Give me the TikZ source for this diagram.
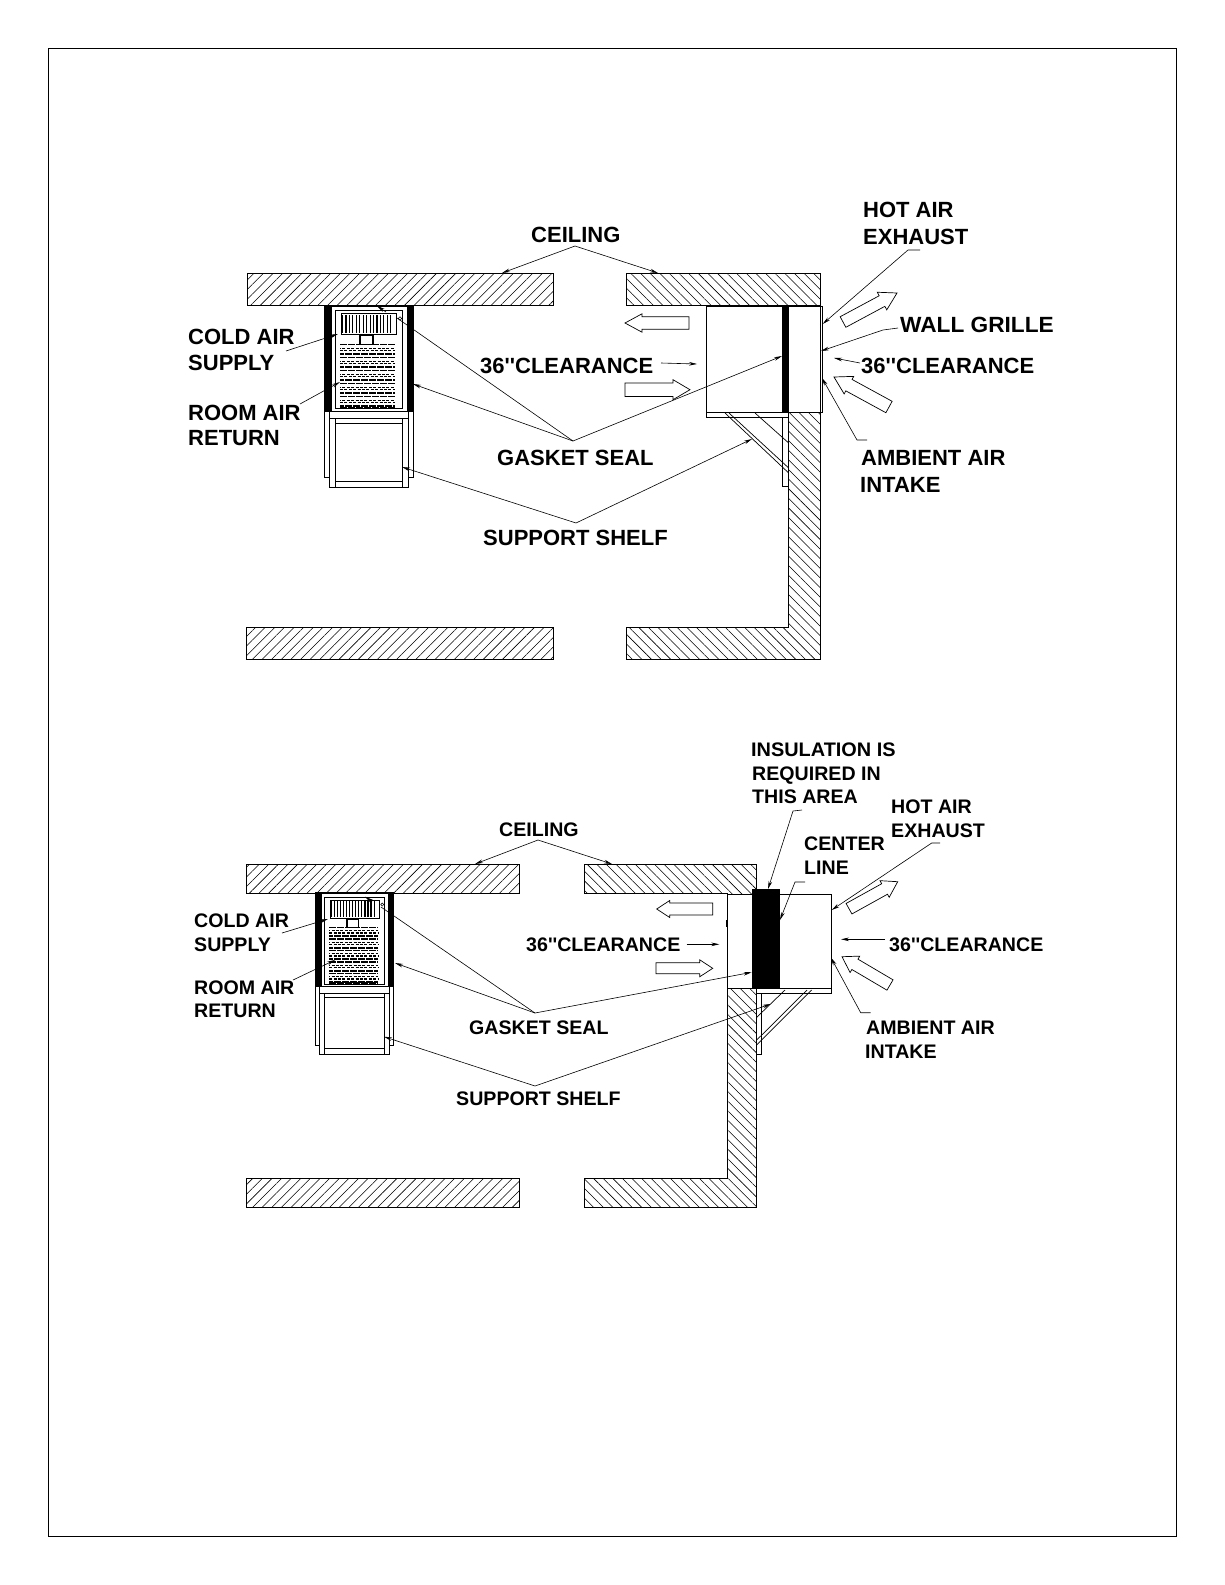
\documentclass[tikz,border=0pt]{standalone}
\usepackage{fontspec}
\setmainfont{Liberation Sans}
\setmonofont{Liberation Sans}
\usetikzlibrary{patterns.meta,arrows.meta,calc}
\newcommand{\qq}{{\ttfamily''}}
\tikzset{
  wallr/.style={draw=black,line width=1pt,pattern={Lines[angle=45,distance=6.8pt,line width=.55pt]}},
  walll/.style={draw=black,line width=1pt,pattern={Lines[angle=-45,distance=6.8pt,line width=.55pt]}},
  lab/.style={anchor=west,inner sep=0pt,yshift=-1pt,font=\bfseries\fontsize{22}{24}\selectfont},
  labs/.style={anchor=west,inner sep=0pt,yshift=-1pt,font=\bfseries\fontsize{19.6}{22}\selectfont},
  leader/.style={line width=.6pt,-{Stealth[length=8pt,width=3.6pt]}},
  leaderp/.style={line width=.6pt},
  part/.style={draw=black,line width=.8pt,fill=white},
  thin part/.style={draw=black,line width=.7pt},
  blockarrow/.style={draw=black,line width=.7pt,fill=white}
}
% block arrow: tail, tip, half body width, half head width, head length
\newcommand{\blockarr}[7]{%
  \coordinate (ba1) at (#1,#2);
  \coordinate (ba2) at (#3,#4);
  \coordinate (ba3) at ($(ba2)!#7pt!(ba1)$);
  \draw[blockarrow] ($(ba1)!#5pt!90:(ba2)$) -- ($(ba3)!#5pt!-90:(ba1)$) -- ($(ba3)!#6pt!-90:(ba1)$) -- (ba2)
     -- ($(ba3)!#6pt!90:(ba1)$) -- ($(ba3)!#5pt!90:(ba1)$) -- ($(ba1)!#5pt!-90:(ba2)$) -- cycle;
}
% wall-mounted unit seen from the front; origin is the top left of the left gasket strip
\newcommand{\frontunit}{%
  \draw[part] (0,0) rectangle (89,172);
  \draw[part] (5,106) rectangle (84,182);
  \draw[thin part] (5,113) -- (84,113);
  \draw[thin part] (11,113) -- (11,182);
  \draw[thin part] (78,113) -- (78,182);
  \draw[thin part] (11,118) -- (78,118);
  \draw[thin part] (11,176) -- (78,176);
  \fill (0,0) rectangle (8.5,106);
  \fill (82.5,0) rectangle (89,106);
  \draw[part] (7.5,1) rectangle (83,106);
  \draw[line width=1.6pt] (0,0) -- (89,0);
  \draw[thin part] (11,5) rectangle (78,103);
  \draw[thin part] (17.5,8) rectangle (72.5,28.5);
  \foreach \i in {0,...,14} {\draw[line width=1.15pt] ({18.5+\i*3.45},9.5) -- ({18.5+\i*3.45},27);}
  \draw[line width=1.5pt] (36,30) rectangle (49,39);
  \draw[line width=.5pt] (76,13) circle (1.8);
  \foreach \g in {0,...,4} {
    \draw[line width=1.7pt,dash pattern=on 7pt off 1pt] (16,{39+\g*13}) -- (71,{39+\g*13});
    \draw[line width=1.2pt,dash pattern=on 3pt off 1.4pt,dash phase=2pt] (16,{42.6+\g*13}) -- (71,{42.6+\g*13});
    \draw[line width=1.2pt,dash pattern=on 3pt off 1.4pt] (16,{45.2+\g*13}) -- (71,{45.2+\g*13});
    \draw[line width=1.7pt,dash pattern=on 7pt off 1pt,dash phase=3pt] (16,{48.8+\g*13}) -- (71,{48.8+\g*13});
  }
  \draw[line width=1.7pt,dash pattern=on 7pt off 1pt] (16,102) -- (71,102);
}
\begin{document}
\begin{tikzpicture}[x=1pt,y=-1pt]
\useasboundingbox (0,0) rectangle (1225,1585);
\fill[white] (0,0) rectangle (1225,1585);
\draw[line width=1pt] (48.3,48.3) rectangle (1176.7,1536.3);

%% ---------- upper drawing ----------
\draw[wallr] (247,273.3) rectangle (553,305.3);
\draw[wallr] (246,627) rectangle (553,659);
\draw[walll] (626,273.3) -- (820.7,273.3) -- (820.7,659) -- (626.7,659) -- (626.7,627)
   -- (788.7,627) -- (788.7,305.3) -- (626,305.3) -- cycle;

\begin{scope}[shift={(324,305.5)}]\frontunit\end{scope}

\draw[thin part] (782.3,417) rectangle (788.7,486);
\draw[part] (706.7,412.3) rectangle (788.7,417.3);
\draw[thin part] (725,413) -- (788.7,473);
\draw[thin part] (729,413) -- (788.7,468);
\draw[thin part] (755,413) -- (788.7,443);
\draw[part] (706.7,306) rectangle (822,412.3);
\draw[thin part] (820,306) -- (820,412.3);
\draw[line width=1.6pt] (706.7,306) -- (820.7,306);
\fill (782.3,306) rectangle (788.7,412.3);
\draw[line width=1.4pt] (706.2,335) -- (706.2,343);

\blockarr{689}{323}{625}{323}{6.3}{9.2}{17}
\blockarr{625}{389.7}{690}{389.7}{6.8}{10}{17}
\blockarr{843}{322}{897}{293}{6}{10}{17}
\blockarr{889}{407}{834}{377}{6.5}{10}{17}

\node[lab] (ceilA) at (531,233.5) {CEILING};
\node[lab] (hotA) at (863,209) {HOT AIR};
\node[lab] (exhA) at (863,236) {EXHAUST};
\node[lab,xscale=1.03] (grilleA) at (900,324) {WALL GRILLE};
\node[lab] (clrRA) at (861,365) {36\qq CLEARANCE};
\node[lab] (clrLA) at (480,365) {36\qq CLEARANCE};
\node[lab] (coldA) at (188,335.5) {COLD AIR};
\node[lab] (supA) at (188,362) {SUPPLY};
\node[lab] (roomA) at (188,412) {ROOM AIR};
\node[lab] (retA) at (188,437.5) {RETURN};
\node[lab] (gaskA) at (497,457) {GASKET SEAL};
\node[lab] (shelfA) at (483,536.5) {SUPPORT SHELF};
\node[lab] (ambA) at (861,457) {AMBIENT AIR};
\node[lab] (intA) at (860,484) {INTAKE};

\coordinate (ceilApexA) at (575,246);
\coordinate (ceilTipA1) at (502,273);
\coordinate (ceilTipA2) at (658,273);
\draw[leader] (ceilApexA) -- (ceilTipA1);
\draw[leader] (ceilApexA) -- (ceilTipA2);
\coordinate (coldStartA) at (286,351);
\coordinate (coldTipA) at (338,334);
\draw[leader] (coldStartA) -- (coldTipA);
\coordinate (roomStartA) at (300,404);
\coordinate (roomTipA) at (340,382);
\draw[leader] (roomStartA) -- (roomTipA);
\coordinate (gaskApexA) at (573,441);
\coordinate (gaskKneeA) at (397,318);
\coordinate (gaskShortA) at (386,312);
\coordinate (gaskTipA1) at (377,306);
\coordinate (gaskTipA2) at (413,384);
\coordinate (gaskTipA3) at (782,356);
\draw[leaderp] (gaskApexA) -- (gaskKneeA);
\draw[leader] (gaskShortA) -- (gaskTipA1);
\draw[leader] (gaskApexA) -- (gaskTipA2);
\draw[leader] (gaskApexA) -- (gaskTipA3);
\coordinate (shelfApexA) at (576,523);
\coordinate (shelfTipA1) at (402,467);
\coordinate (shelfTipA2) at (752,439);
\draw[leader] (shelfApexA) -- (shelfTipA1);
\draw[leader] (shelfApexA) -- (shelfTipA2);
\coordinate (clrLStartA) at (661,363);
\coordinate (clrLTipA) at (697,364);
\draw[leader] (clrLStartA) -- (clrLTipA);
\coordinate (clrRStartA) at (860,363);
\coordinate (clrRTipA) at (834,358);
\draw[leader] (clrRStartA) -- (clrRTipA);
\coordinate (hotStartA) at (920,250);
\coordinate (hotMidA) at (908,250);
\coordinate (hotTipA) at (822.7,324);
\draw[leader] (hotStartA) -- (hotMidA) -- (hotTipA);
\coordinate (grilleStartA) at (898,328);
\coordinate (grilleMidA) at (883,330);
\coordinate (grilleTipA) at (821,351);
\draw[leader] (grilleStartA) -- (grilleMidA) -- (grilleTipA);
\coordinate (ambStartA) at (867,440);
\coordinate (ambMidA) at (857,440);
\coordinate (ambTipA) at (822,378);
\draw[leader] (ambStartA) -- (ambMidA) -- (ambTipA);

%% ---------- lower drawing ----------
\draw[wallr] (246,864.5) rectangle (519,893.3);
\draw[wallr] (246,1178) rectangle (519,1207);
\draw[walll] (584,864.7) -- (756.7,864.7) -- (756.7,1207) -- (584,1207) -- (584,1178)
   -- (727.3,1178) -- (727.3,893.3) -- (584,893.3) -- cycle;

\begin{scope}[shift={(315,893)},scale=.885]\frontunit\end{scope}

\draw[thin part] (756.7,993) rectangle (761.7,1054);
\draw[part] (756.7,988.3) rectangle (831.3,993.3);
\draw[thin part] (811.7,990) -- (756.7,1045);
\draw[thin part] (807,990) -- (756.7,1040);
\draw[thin part] (785,990) -- (756.7,1017.3);
\draw[part] (727.3,894.3) rectangle (831.3,988.3);
\fill (752,889) rectangle (780,988.3);
\draw[line width=1.4pt] (727,920) -- (727,927);

\blockarr{712.7}{909}{656.7}{909}{6}{8.5}{13}
\blockarr{656}{968.3}{712.7}{968.3}{5.5}{8.5}{13}
\blockarr{849}{908.7}{897.7}{881.7}{6}{9.5}{15}
\blockarr{890}{985}{842}{956.7}{6}{9.5}{15}

\node[labs,xscale=1.015] (insA) at (751,748.5) {INSULATION IS};
\node[labs] (insB) at (752,774.5) {REQUIRED IN};
\node[labs] (insC) at (752,796) {THIS AREA};
\node[labs] (hotB) at (891,806) {HOT AIR};
\node[labs] (exhB) at (891,830) {EXHAUST};
\node[labs] (cenB) at (804,842.5) {CENTER};
\node[labs] (linB) at (804,866.5) {LINE};
\node[labs] (ceilB) at (499,828.5) {CEILING};
\node[labs] (coldB) at (194,920) {COLD AIR};
\node[labs] (supB) at (194,943.5) {SUPPLY};
\node[labs] (roomB) at (194,987) {ROOM AIR};
\node[labs] (retB) at (194,1010) {RETURN};
\node[labs] (clrLB) at (526,943.5) {36\qq CLEARANCE};
\node[labs] (clrRB) at (889,943.5) {36\qq CLEARANCE};
\node[labs] (gaskB) at (469,1027) {GASKET SEAL};
\node[labs] (shelfB) at (456,1098) {SUPPORT SHELF};
\node[labs] (ambB) at (866,1027) {AMBIENT AIR};
\node[labs] (intB) at (865,1051) {INTAKE};

\coordinate (insStart) at (802,810);
\coordinate (insMid) at (793,811);
\coordinate (insTip) at (768,889);
\draw[leader] (insStart) -- (insMid) -- (insTip);
\coordinate (cenStart) at (805,882);
\coordinate (cenMid) at (795,882);
\coordinate (cenTip) at (780,920);
\draw[leader] (cenStart) -- (cenMid) -- (cenTip);
\coordinate (hotStartB) at (940,843);
\coordinate (hotMidB) at (931.7,843);
\coordinate (hotTipB) at (831.7,910);
\draw[leader] (hotStartB) -- (hotMidB) -- (hotTipB);
\coordinate (clrLStartB) at (686.7,944.3);
\coordinate (clrLTipB) at (719.3,944.3);
\draw[leader] (clrLStartB) -- (clrLTipB);
\coordinate (clrRStartB) at (885,939.3);
\coordinate (clrRTipB) at (841,939.3);
\draw[leader] (clrRStartB) -- (clrRTipB);
\coordinate (ambStartB) at (870.7,1012.7);
\coordinate (ambMidB) at (860.7,1012.7);
\coordinate (ambTipB) at (831,957.7);
\draw[leader] (ambStartB) -- (ambMidB) -- (ambTipB);
\coordinate (gaskApexB) at (535,1013);
\coordinate (gaskKneeB) at (381,907);
\coordinate (gaskShortB) at (372,901.5);
\coordinate (gaskTipB1) at (365,896.7);
\coordinate (gaskTipB2) at (395,963);
\coordinate (gaskTipB3) at (751.7,972.3);
\draw[leaderp] (gaskApexB) -- (gaskKneeB);
\draw[leader] (gaskShortB) -- (gaskTipB1);
\draw[leader] (gaskApexB) -- (gaskTipB2);
\draw[leader] (gaskApexB) -- (gaskTipB3);
\coordinate (shelfApexB) at (535,1086);
\coordinate (shelfTipB1) at (384,1036.7);
\coordinate (shelfTipB2) at (770.7,1004);
\draw[leader] (shelfApexB) -- (shelfTipB1);
\draw[leader] (shelfApexB) -- (shelfTipB2);
\coordinate (ceilApexB) at (538,840);
\coordinate (ceilTipB1) at (475,864);
\coordinate (ceilTipB2) at (612,864);
\draw[leader] (ceilApexB) -- (ceilTipB1);
\draw[leader] (ceilApexB) -- (ceilTipB2);
\coordinate (coldStartB) at (282,933);
\coordinate (coldTipB) at (328,919);
\draw[leader] (coldStartB) -- (coldTipB);
\coordinate (roomStartB) at (293,980);
\coordinate (roomTipB) at (335,960);
\draw[leader] (roomStartB) -- (roomTipB);
\end{tikzpicture}
\end{document}
